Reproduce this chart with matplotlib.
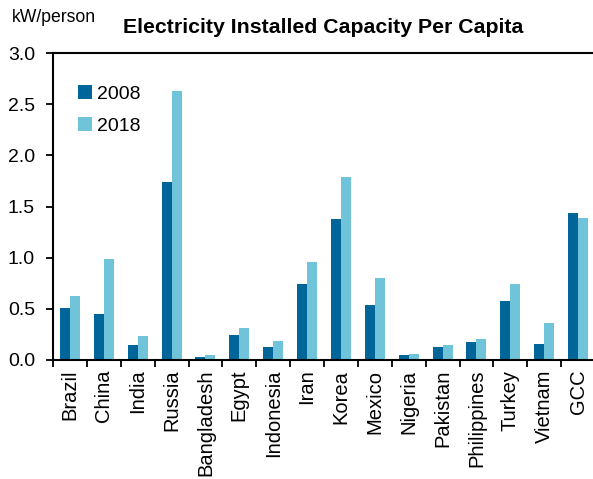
import matplotlib
matplotlib.use("Agg")
import matplotlib.pyplot as plt
import numpy as np
from matplotlib.ticker import FixedLocator, FormatStrFormatter

plt.rcParams['font.family'] = ['Liberation Sans', 'DejaVu Sans']

# Installed electricity capacity per person (kW)
countries = ["Brazil", "China", "India", "Russia", "Bangladesh", "Egypt",
             "Indonesia", "Iran", "Korea", "Mexico", "Nigeria", "Pakistan",
             "Philippines", "Turkey", "Vietnam", "GCC"]
cap_2008 = [0.51, 0.45, 0.15, 1.74, 0.03, 0.24, 0.13, 0.74, 1.38, 0.54,
            0.05, 0.13, 0.18, 0.58, 0.16, 1.44]
cap_2018 = [0.63, 0.99, 0.23, 2.63, 0.05, 0.31, 0.19, 0.96, 1.79, 0.80,
            0.06, 0.15, 0.21, 0.74, 0.36, 1.39]
years = ["2008", "2018"]

DARK = "#00669a"
LIGHT = "#6fc4d9"

W, H = 593, 479
fig = plt.figure(figsize=(W / 100, H / 100), dpi=100)
ax = fig.add_axes([53 / W, (H - 360) / H, 542 / W, 307 / H])

x = np.arange(len(countries))
bw = 0.295
ax.bar(x - bw / 2, cap_2008, width=bw, color=DARK, label=years[0])
ax.bar(x + bw / 2, cap_2018, width=bw, color=LIGHT, label=years[1])

ax.set_xlim(-0.5, len(countries) - 0.5)
ax.set_ylim(0, 3.0)
ax.set_yticks(np.arange(0, 3.01, 0.5))
ax.yaxis.set_major_formatter(FormatStrFormatter('%.1f'))

ax.set_xticks(x)
ax.set_xticklabels(countries, rotation=90, fontsize=14.5)
ax.xaxis.set_minor_locator(FixedLocator(np.arange(-0.5, len(countries) - 0.5, 1.0)))
ax.tick_params(axis='x', which='major', length=0, pad=7)
ax.tick_params(axis='x', which='minor', length=5, width=1.3, direction='out')
ax.tick_params(axis='y', which='major', length=5, width=1.3, direction='out',
               labelsize=14, pad=8)

for side in ("left", "bottom", "top"):
    ax.spines[side].set_linewidth(1.5)
    ax.spines[side].set_color("black")
ax.spines["right"].set_visible(False)

leg = ax.legend(loc='upper left', bbox_to_anchor=(0.046, 0.895), frameon=False,
                fontsize=14, handlelength=0.72, handleheight=0.72,
                handletextpad=0.25, labelspacing=0.72, borderpad=0,
                borderaxespad=0)

fig.text(323 / W, (H - 33) / H, "Electricity Installed Capacity Per Capita",
         ha='center', va='baseline', fontsize=15.3, fontweight='bold')
fig.text(12 / W, (H - 22) / H, "kW/person", ha='left', va='baseline',
         fontsize=12.7)

fig.savefig("out.png", dpi=100)
